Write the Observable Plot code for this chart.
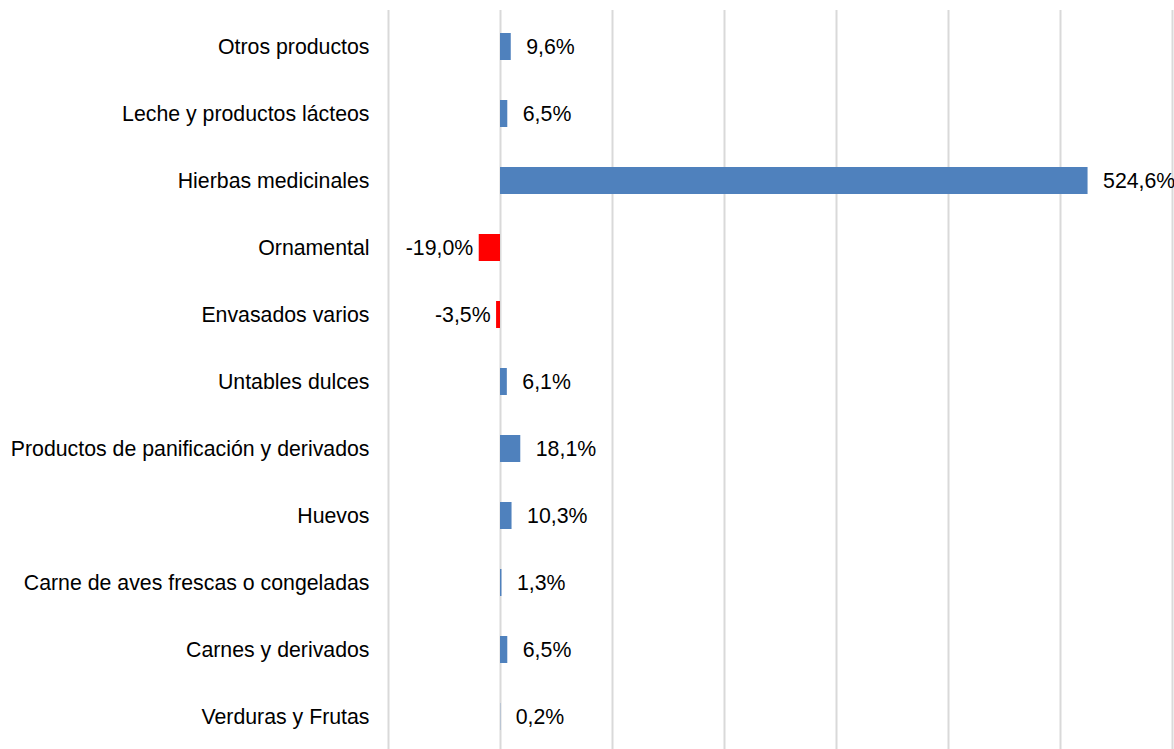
<!DOCTYPE html>
<html>
<head>
<meta charset="utf-8">
<script src="https://cdn.jsdelivr.net/npm/d3@7"></script>
<script src="https://cdn.jsdelivr.net/npm/@observablehq/plot@0.6"></script>
<style>
  html, body { margin: 0; padding: 0; background: #fff; overflow: hidden; }
  #chart svg { display: block; }
</style>
</head>
<body>
<div id="chart"></div>
<script>
const categories = [
  "Otros productos",
  "Leche y productos lácteos",
  "Hierbas medicinales",
  "Ornamental",
  "Envasados varios",
  "Untables dulces",
  "Productos de panificación y derivados",
  "Huevos",
  "Carne de aves frescas o congeladas",
  "Carnes y derivados",
  "Verduras y Frutas"
];
const values = [9.6, 6.5, 524.6, -19.0, -3.5, 6.1, 18.1, 10.3, 1.3, 6.5, 0.2];
const gridTicks = [-100, 0, 100, 200, 300, 400, 500, 600];

const data = categories.map((c, i) => ({category: c, value: values[i]}));
const fmt = v => v.toFixed(1).replace(".", ",") + "%";

const chart = Plot.plot({
  width: 1174,
  height: 752,
  marginLeft: 388,
  marginRight: 2,
  marginTop: 10,
  marginBottom: 0,
  style: {fontFamily: "'Liberation Sans', Arial, Helvetica, sans-serif", fontSize: "21.3px", color: "#000", background: "#fff"},
  x: {domain: [-100, 600], axis: null},
  y: {domain: categories, paddingInner: 0.6, paddingOuter: 0.3, label: null, axis: null},
  marks: [
    Plot.ruleX(gridTicks, {stroke: "#d9d9d9", strokeWidth: 2, strokeOpacity: 1}),
    Plot.barX(data, {x: "value", y: "category", fill: d => d.value < 0 ? "#ff0000" : "#4f81bd"}),
    Plot.text(data.filter(d => d.value >= 0), {x: "value", y: "category", text: d => fmt(d.value), textAnchor: "start", dx: 15, fill: "#000", fontSize: 21.3}),
    Plot.text(data.filter(d => d.value < 0), {x: "value", y: "category", text: d => fmt(d.value), textAnchor: "end", dx: -6, fill: "#000", fontSize: 21.3}),
    Plot.axisY({tickSize: 0, tickPadding: 19, fontSize: 21.3, label: null})
  ]
});
document.getElementById("chart").appendChild(chart);
</script>
</body>
</html>
